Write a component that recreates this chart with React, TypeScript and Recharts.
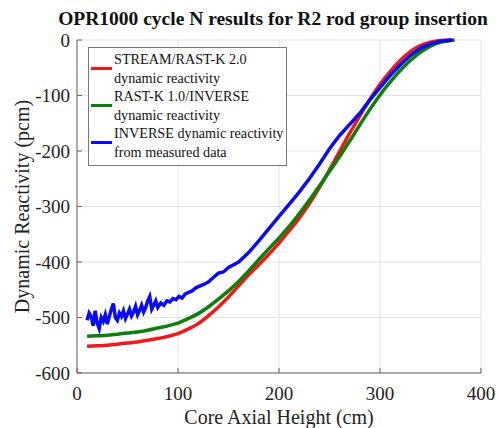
import React from 'react';
import { LineChart, Line, XAxis, YAxis, CartesianGrid } from 'recharts';

// STREAM/RAST-K 2.0 dynamic reactivity
const redX = [10, 20, 30, 40, 50, 60, 70, 80, 90, 100, 110, 120, 130, 140, 150, 160, 170, 180, 190, 200, 210, 220, 230, 240, 250, 260, 270, 280, 290, 300, 310, 320, 330, 340, 350, 360, 370];
const redY = [-552, -551, -550, -548, -546, -544, -541, -538, -534, -529, -521, -511, -497, -481, -463, -443, -423, -405, -386, -366, -344, -321, -295, -266, -234, -201, -168, -137, -107, -80, -57, -37, -21, -10, -4, -1, 0];

// RAST-K 1.0/INVERSE dynamic reactivity
const greenX = [10, 20, 30, 40, 50, 60, 70, 80, 90, 100, 110, 120, 130, 140, 150, 160, 170, 180, 190, 200, 210, 220, 230, 240, 250, 260, 270, 280, 290, 300, 310, 320, 330, 340, 350, 360, 370, 374];
const greenY = [-534, -533, -532, -530, -528, -526, -523, -519, -515, -510, -502, -493, -481, -467, -452, -435, -416, -396, -376, -357, -336, -313, -289, -263, -237, -210, -182, -153, -125, -99, -76, -55, -37, -22, -11, -4, -1, 0];

// INVERSE dynamic reactivity from measured data
const blueX = [10, 12, 14, 16, 18, 20, 22, 24, 26, 28, 30, 32, 34, 36, 38, 40, 42, 44, 46, 48, 50, 52, 54, 56, 58, 60, 62, 64, 66, 68, 70, 72, 74, 76, 78, 80, 83, 86, 89, 92, 95, 98, 101, 104, 107, 110, 114, 118, 122, 126, 130, 135, 140, 145, 150, 155, 160, 170, 180, 190, 200, 210, 220, 230, 240, 250, 260, 270, 280, 290, 300, 310, 320, 330, 340, 350, 360, 372];
const blueY = [-505, -492, -498, -515, -488, -510, -520, -500, -507, -495, -512, -498, -485, -475, -500, -505, -492, -498, -488, -502, -494, -485, -497, -490, -480, -495, -487, -478, -490, -482, -470, -462, -485, -478, -470, -482, -474, -478, -470, -472, -466, -468, -462, -465, -458, -455, -452, -446, -443, -440, -436, -428, -420, -418, -410, -405, -400, -383, -362, -340, -318, -296, -274, -250, -224, -196, -172, -152, -132, -108, -86, -64, -45, -28, -15, -7, -2, 0];

const xTicks = [0, 100, 200, 300, 400];
const yTicks = [-600, -500, -400, -300, -200, -100, 0];

const series = [
  { name: 'STREAM/RAST-K 2.0', name2: 'dynamic reactivity', color: '#f21818', xs: redX, ys: redY, curve: 'monotone' },
  { name: 'RAST-K 1.0/INVERSE', name2: 'dynamic reactivity', color: '#0b800b', xs: greenX, ys: greenY, curve: 'monotone' },
  { name: 'INVERSE dynamic reactivity', name2: 'from measured data', color: '#0a0af5', xs: blueX, ys: blueY, curve: 'linear' },
];

const serif = '"Liberation Serif", "Times New Roman", serif';
const tickStyle = { fontFamily: serif, fontSize: 19, fill: '#222' };
const labelStyle = { fontFamily: serif, fontSize: 20, fill: '#222' };

const LegendBox = () => (
  <div
    style={{
      position: 'absolute',
      left: 88,
      top: 47,
      width: 197,
      border: '1px solid #777',
      background: '#fff',
      padding: '2px 0 4px 0',
      fontFamily: serif,
      fontSize: 14.2,
      lineHeight: '18.5px',
      color: '#111',
      whiteSpace: 'nowrap',
    }}
  >
    {series.map((s) => (
      <div key={s.name} style={{ display: 'flex', alignItems: 'center' }}>
        <div style={{ width: 21, height: 3, background: s.color, marginLeft: 2, marginRight: 2, flexShrink: 0 }} />
        <div>
          <div>{s.name}</div>
          <div>{s.name2}</div>
        </div>
      </div>
    ))}
  </div>
);

export default function App() {
  return (
    <div style={{ position: 'relative', width: 499, height: 428 }}>
      <style>{'body { margin: 0; overflow: hidden; }'}</style>
      <div
        style={{
          position: 'absolute',
          left: 0,
          top: 8,
          width: 546,
          textAlign: 'center',
          fontFamily: serif,
          fontWeight: 'bold',
          fontSize: 19.5,
          lineHeight: '22px',
          color: '#111',
        }}
      >
        OPR1000 cycle N results for R2 rod group insertion
      </div>
      <LineChart width={499} height={428} margin={{ top: 40, right: 18, bottom: 25, left: 0 }} style={{ overflow: 'visible' }}>
        <CartesianGrid stroke="#e3e3e3" />
        <XAxis
          type="number"
          dataKey="x"
          domain={[0, 400]}
          ticks={xTicks}
          stroke="#666"
          tickSize={-5}
          tickMargin={19}
          tick={tickStyle}
          allowDuplicatedCategory={false}
          label={{ value: 'Core Axial Height (cm)', position: 'bottom', offset: 7, style: labelStyle }}
        />
        <XAxis xAxisId="top" orientation="top" type="number" domain={[0, 400]} ticks={xTicks} height={0} stroke="#666" tickSize={-5} tickFormatter={() => ''} />
        <YAxis
          type="number"
          domain={[-600, 0]}
          ticks={yTicks}
          width={77}
          stroke="#666"
          tickSize={-5}
          tickMargin={12}
          tick={tickStyle}
          label={{ value: 'Dynamic Reactivity (pcm)', angle: -90, position: 'insideLeft', offset: 22, style: { ...labelStyle, textAnchor: 'middle' } }}
        />
        <YAxis yAxisId="right" orientation="right" type="number" domain={[-600, 0]} ticks={yTicks} width={0} stroke="#666" tickSize={-5} tickFormatter={() => ''} />
        {series.map((s) => (
          <Line
            key={s.name}
            name={s.name}
            data={s.xs.map((x, i) => ({ x, y: s.ys[i] }))}
            dataKey="y"
            type={s.curve as any}
            stroke={s.color}
            strokeWidth={3.5}
            dot={false}
            isAnimationActive={false}
          />
        ))}
      </LineChart>
      <LegendBox />
    </div>
  );
}
